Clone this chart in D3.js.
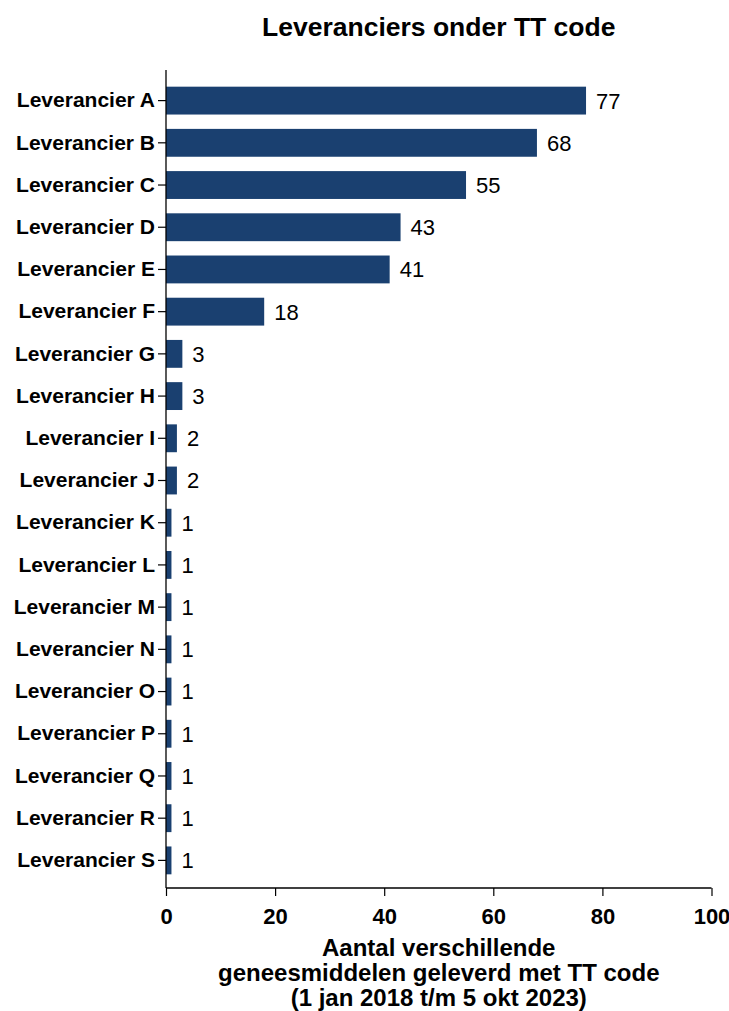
<!DOCTYPE html>
<html><head><meta charset="utf-8">
<script src="https://cdn.jsdelivr.net/npm/d3@7"></script>
<style>body{margin:0;background:#fff}text{font-family:"Liberation Sans",Arial,sans-serif}</style>
</head><body><svg id="c" width="729" height="1011"></svg>
<script>
const categories = ["Leverancier A","Leverancier B","Leverancier C","Leverancier D","Leverancier E","Leverancier F","Leverancier G","Leverancier H","Leverancier I","Leverancier J","Leverancier K","Leverancier L","Leverancier M","Leverancier N","Leverancier O","Leverancier P","Leverancier Q","Leverancier R","Leverancier S"];
const values = [77,68,55,43,41,18,3,3,2,2,1,1,1,1,1,1,1,1,1];
const xTicks = [0,20,40,60,80,100];
const title = "Leveranciers onder TT code";
const xTitle = ["Aantal verschillende","geneesmiddelen geleverd met TT code","(1 jan 2018 t/m 5 okt 2023)"];

(function(){
const svg = d3.select("#c");
const pl = 166, pr = 711.5, pt = 70, pb = 888;
const x = d3.scaleLinear().domain([0,100]).range([pl,pr]);
const y = d3.scaleBand().domain(categories).range([79.5,881.5]).paddingInner(0.34).paddingOuter(0.17);
const color = "#1a4070";
const ff = "Liberation Sans, Arial, sans-serif";

svg.append("text").attr("x",(pl+pr)/2).attr("y",36).attr("text-anchor","middle")
  .attr("font-size",26.5).attr("font-weight","bold").text(title);

svg.selectAll("rect.bar").data(values).join("rect").attr("class","bar")
  .attr("x",x(0)).attr("y",(d,i)=>y(categories[i]))
  .attr("width",d=>x(d)-x(0)).attr("height",y.bandwidth()).attr("fill",color);

svg.selectAll("text.val").data(values).join("text").attr("class","val")
  .attr("x",d=>x(d)+10).attr("y",(d,i)=>y(categories[i])+y.bandwidth()/2)
  .attr("dy","0.36em").attr("font-size",22).text(d=>d);

const ya = svg.append("g").attr("transform",`translate(${pl},0)`)
  .call(d3.axisLeft(y).tickSize(8).tickPadding(3));
ya.select(".domain").remove();
ya.selectAll("text").attr("font-size",21).attr("font-weight","bold").attr("font-family",ff).attr("fill","#000");
ya.selectAll("line").attr("stroke","#000").attr("stroke-width",1.2);
svg.append("line").attr("x1",pl).attr("x2",pl).attr("y1",pt).attr("y2",pb).attr("stroke","#000").attr("stroke-width",1.3);

const xa = svg.append("g").attr("transform",`translate(0,${pb})`)
  .call(d3.axisBottom(x).tickValues(xTicks).tickSize(8).tickPadding(12));
xa.select(".domain").remove();
xa.selectAll("text").attr("font-size",22).attr("font-weight","bold").attr("font-family",ff).attr("fill","#000");
xa.selectAll("line").attr("stroke","#000").attr("stroke-width",1.2);
svg.append("line").attr("x1",pl).attr("x2",pr).attr("y1",pb).attr("y2",pb).attr("stroke","#000").attr("stroke-width",1.3);

svg.append("text").attr("text-anchor","middle")
  .attr("font-size",24).attr("font-weight","bold")
  .selectAll("tspan").data(xTitle).join("tspan")
  .attr("x",(pl+pr)/2).attr("y",(d,i)=>956+i*25).text(d=>d);
})();
</script></body></html>
